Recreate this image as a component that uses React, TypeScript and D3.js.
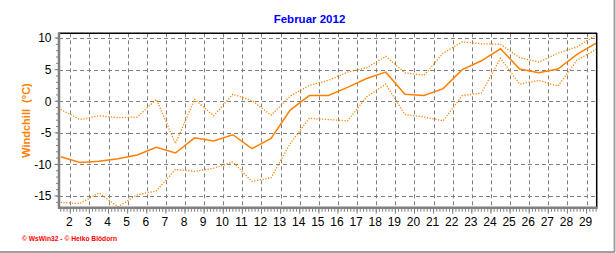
import React from "react";
import * as d3 from "d3";

const title = "Februar 2012";
const yLabel = "Windchill  (°C)";
const footer = "© WsWin32 - © Heiko Blödorn";

const days = [1, 2, 3, 4, 5, 6, 7, 8, 9, 10, 11, 12, 13, 14, 15, 16, 17, 18, 19, 20, 21, 22, 23, 24, 25, 26, 27, 28, 29];
const maxValues = [-1.3, -2.9, -2.3, -2.6, -2.5, 0.3, -6.7, 0.3, -2.3, 1.1, 0.1, -2.2, 0.8, 2.5, 3.3, 4.6, 5.3, 7.1, 4.5, 4.1, 7.6, 9.4, 9.1, 9.0, 6.9, 6.2, 7.6, 8.6, 10.5];
const avgValues = [-8.8, -9.7, -9.5, -9.1, -8.5, -7.3, -8.2, -5.8, -6.3, -5.3, -7.5, -5.9, -1.4, 0.9, 0.9, 2.2, 3.6, 4.6, 1.1, 0.9, 2.0, 5.0, 6.4, 8.3, 5.1, 4.5, 5.1, 7.4, 9.2];
const minValues = [-16.0, -16.2, -14.5, -16.7, -14.8, -14.2, -10.8, -11.1, -10.6, -9.6, -12.7, -12.1, -6.7, -2.7, -2.9, -3.1, 0.7, 2.7, -2.1, -2.5, -3.1, 0.9, 1.3, 6.8, 2.7, 3.3, 2.4, 6.5, 8.2];
const xTickDays = [2, 3, 4, 5, 6, 7, 8, 9, 10, 11, 12, 13, 14, 15, 16, 17, 18, 19, 20, 21, 22, 23, 24, 25, 26, 27, 28, 29];
const yTicks = [-15, -10, -5, 0, 5, 10];

const W = 616;
const H = 253;
const left = 59;
const right = 596.7;
const top = 33.3;
const bottom = 207.7;
const orange = "#FF8000";
const gray = "#808080";
const font = "'Liberation Sans', Arial, sans-serif";

export default function App() {
  const x = d3.scaleLinear().domain([1.41, 29.53]).range([left, right]);
  const y = d3.scaleLinear().domain([-16.85, 10.75]).range([bottom, top]);

  const line = (vals: number[]) =>
    d3
      .line<number>()
      .x((_, i) => x(days[i] + 0.5))
      .y((v) => y(v))(vals) as string;

  const minorX = d3.range(Math.ceil(1.41 * 6), Math.floor(29.53 * 6) + 1).map((k) => k / 6);
  const minorY = d3.range(-16, 11, 1);

  return (
    <svg
      width={W}
      height={H}
      style={{ position: "absolute", left: 0, top: 0, background: "#fff" }}
    >
      <rect x={0} y={0} width={W} height={H} fill="#fff" />
      {/* outer frame */}
      <line x1={614.5} y1={0} x2={614.5} y2={252} stroke="#a0a0a0" strokeWidth={2} />
      <line x1={0} y1={252} x2={615} y2={252} stroke="#a0a0a0" strokeWidth={2} />

      <text
        x={309.5}
        y={22.5}
        textAnchor="middle"
        fontFamily={font}
        fontWeight="bold"
        fontSize={11.5}
        fill="#0000FF"
      >
        {title}
      </text>

      {/* grid */}
      <g stroke={gray} strokeWidth={1} strokeDasharray="4,3">
        {yTicks.map((t) => (
          <line key={"h" + t} x1={left} x2={right} y1={Math.round(y(t)) + 0.5} y2={Math.round(y(t)) + 0.5} />
        ))}
        {xTickDays.map((d) => (
          <line key={"v" + d} x1={Math.round(x(d)) + 0.5} x2={Math.round(x(d)) + 0.5} y1={top} y2={bottom} />
        ))}
      </g>

      {/* series */}
      <path d={line(maxValues)} fill="none" stroke={orange} strokeWidth={1.3} strokeDasharray="1.2,1.6" />
      <path d={line(minValues)} fill="none" stroke={orange} strokeWidth={1.3} strokeDasharray="1.2,1.6" />
      <path d={line(avgValues)} fill="none" stroke={orange} strokeWidth={1.5} />

      {/* frame */}
      <line x1={left} x2={right + 0.5} y1={top} y2={top} stroke="#000" strokeWidth={1.5} />
      <line x1={right} x2={right} y1={top} y2={bottom} stroke="#000" strokeWidth={1.5} />
      <line x1={left - 1} x2={right + 1} y1={bottom} y2={bottom} stroke={gray} strokeWidth={2.5} />
      <line x1={left} x2={left} y1={top - 1} y2={bottom + 1} stroke={gray} strokeWidth={2.5} />

      {/* ticks */}
      <g stroke={gray} strokeWidth={1}>
        {minorY.map((v) => (
          <line key={"my" + v} x1={left - 3} x2={left} y1={y(v)} y2={y(v)} />
        ))}
        {yTicks.map((v) => (
          <line key={"My" + v} x1={left - 4.5} x2={left} y1={y(v)} y2={y(v)} />
        ))}
        {minorX.map((v) => (
          <line key={"mx" + v} x1={x(v)} x2={x(v)} y1={bottom} y2={bottom + 4} />
        ))}
        {xTickDays.map((d) => (
          <line key={"Mx" + d} x1={x(d)} x2={x(d)} y1={bottom} y2={bottom + 6} />
        ))}
      </g>

      <g fontFamily={font} fontSize={12} fill="#000">
        {yTicks.map((v) => (
          <text key={"ty" + v} x={51.5} y={y(v)} dy="0.36em" textAnchor="end">
            {v}
          </text>
        ))}
        {xTickDays.map((d) => (
          <text key={"tx" + d} x={x(d) - 1} y={226} textAnchor="middle">
            {d}
          </text>
        ))}
      </g>

      <text
        transform={`translate(30,120.5) rotate(-90)`}
        textAnchor="middle"
        fontFamily={font}
        fontWeight="bold"
        fontSize={11}
        fill={orange}
        style={{ whiteSpace: "pre" }}
      >
        {yLabel}
      </text>

      <text
        x={22}
        y={241}
        fontFamily={font}
        fontWeight="bold"
        fontSize={7}
        fill="#FF0000"
        textLength={95}
        lengthAdjust="spacingAndGlyphs"
      >
        {footer}
      </text>
    </svg>
  );
}
